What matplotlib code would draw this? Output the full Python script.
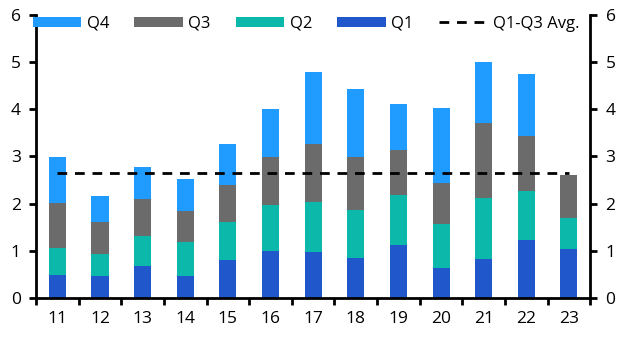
import numpy as np
import matplotlib.pyplot as plt
from matplotlib.ticker import FixedLocator

years = ['11', '12', '13', '14', '15', '16', '17', '18', '19', '20', '21', '22', '23']
q1 = [0.49, 0.47, 0.69, 0.47, 0.81, 1.00, 0.98, 0.85, 1.13, 0.64, 0.83, 1.24, 1.04]
q2 = [0.58, 0.47, 0.63, 0.72, 0.81, 0.98, 1.06, 1.02, 1.06, 0.93, 1.30, 1.03, 0.66]
q3 = [0.95, 0.68, 0.78, 0.66, 0.78, 1.01, 1.23, 1.12, 0.95, 0.87, 1.58, 1.17, 0.91]
q4 = [0.97, 0.54, 0.68, 0.68, 0.87, 1.01, 1.51, 1.44, 0.98, 1.59, 1.30, 1.31, 0.0]
avg_q1_q3 = 2.66

colors = {'Q1': '#2058CC', 'Q2': '#0CB8AA', 'Q3': '#6B6B6B', 'Q4': '#209BFF'}

plt.rcParams['font.family'] = ['Open Sans', 'DejaVu Sans']

fig = plt.figure(figsize=(6.32, 3.54), dpi=100)
ax = fig.add_axes([0.057, 0.158, 0.877, 0.8])

x = np.arange(len(years))
w = 0.4
b1 = np.array(q1)
b2 = b1 + np.array(q2)
b3 = b2 + np.array(q3)

h4 = ax.bar(x, q4, w, bottom=b3, color=colors['Q4'], label='Q4')
h3 = ax.bar(x, q3, w, bottom=b2, color=colors['Q3'], label='Q3')
h2 = ax.bar(x, q2, w, bottom=b1, color=colors['Q2'], label='Q2')
h1 = ax.bar(x, q1, w, color=colors['Q1'], label='Q1')
hl, = ax.plot(x, [avg_q1_q3] * len(x), color='black', lw=2, ls=(0, (3.5, 2.8)), label='Q1-Q3 Avg.')

ax.set_xlim(-0.5, len(years) - 0.5)
ax.set_ylim(0, 6)
ax.set_xticks(x)
ax.set_xticklabels(years)
ax.xaxis.set_minor_locator(FixedLocator(np.arange(-0.5, len(years), 1)))
ax.tick_params(axis='x', which='major', length=0, pad=9, labelsize=12.5)
ax.tick_params(axis='x', which='minor', length=5, width=2)
ax.set_yticks(range(7))
ax.tick_params(axis='y', length=5, width=2, labelsize=12.5, pad=6,
               left=True, right=True, labelleft=True, labelright=True)

ax.spines['top'].set_visible(False)
for s in ['left', 'right', 'bottom']:
    ax.spines[s].set_linewidth(2)

ax.legend(handles=[h4, h3, h2, h1, hl], loc='center', bbox_to_anchor=(0.487, 0.968),
          ncol=5, frameon=False, fontsize=12, handlelength=2.9, handleheight=0.6,
          handletextpad=0.35, columnspacing=1.5, borderaxespad=0)

fig.savefig('out.png', dpi=100)
